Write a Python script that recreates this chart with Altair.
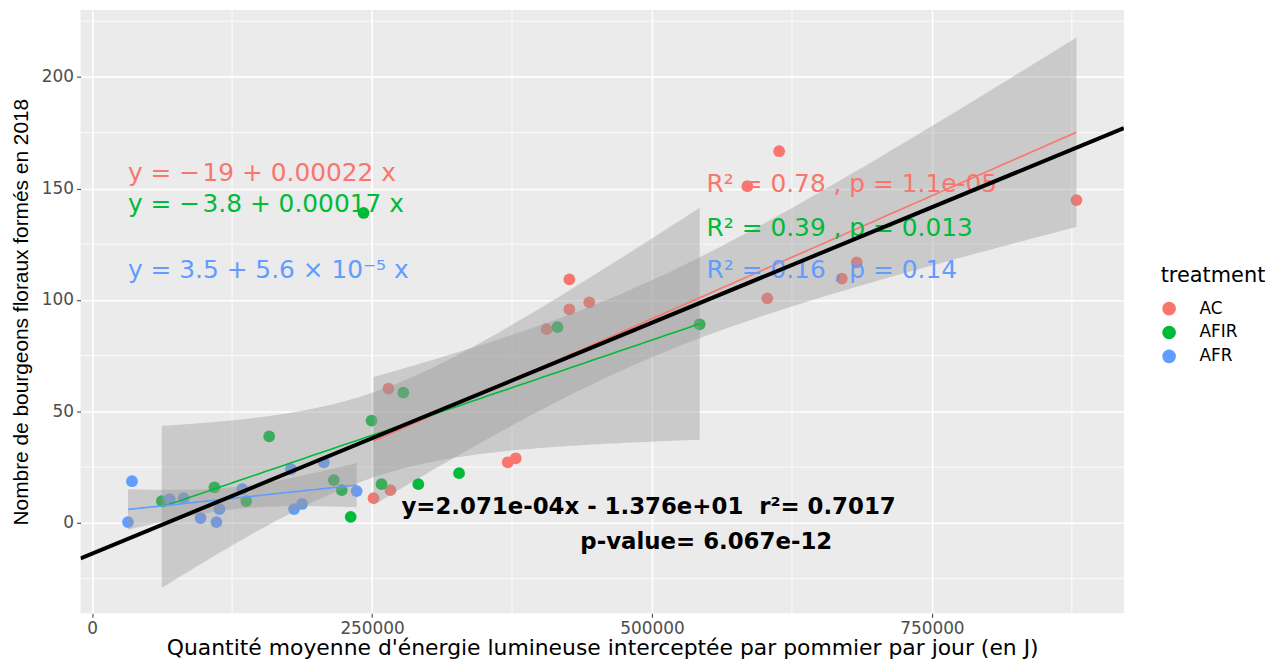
import altair as alt
import numpy as np
import pandas as pd

# ---------------- data ----------------
ac_x = [251300, 266400, 264600, 371200, 378300, 405800, 426200, 426200, 444000,
        585200, 613600, 603000, 669600, 682900, 879100]
ac_y = [11.1, 14.7, 60.2, 27.2, 29.0, 86.9, 95.8, 109.2, 98.9,
        151.0, 166.7, 100.7, 109.6, 116.8, 144.8]

afir_x = [62160, 109200, 137600, 158100, 215800, 222900, 230900, 242400, 249500,
          258400, 277900, 291300, 327700, 415600, 542600]
afir_y = [9.8, 16.0, 9.8, 38.8, 19.2, 14.7, 2.7, 139.0, 45.9,
          17.4, 58.4, 17.4, 22.3, 87.8, 89.1]

afr_x = [35520, 31970, 69260, 81700, 96800, 111000, 113700, 134100, 177600,
         180300, 187400, 206900, 236200]
afr_y = [18.7, 0.4, 10.7, 11.1, 2.2, 0.4, 6.2, 15.2, 24.1,
         6.2, 8.5, 27.2, 14.3]

treatments = ["AC", "AFIR", "AFR"]
colors = ["#F8766D", "#00BA38", "#619CFF"]

# global fit (abline) as printed on the chart
global_slope = 2.071e-04
global_intercept = -13.76

x_domain = [-10400, 921500]
y_domain = [-40.5, 230]
x_major = [0, 250000, 500000, 750000]
x_minor = [125000, 375000, 625000, 875000]
y_major = [0, 50, 100, 150, 200]
y_minor = [-25, 25, 75, 125, 175, 225]

eq_labels = ["y = \u2212\u200a19 + 0.00022 x", "y = \u2212\u200a3.8 + 0.00017 x", "y = 3.5 + 5.6 \u00d7 10\u207b\u2075 x"]
eq_x = [31970, 31970, 31970]
eq_y = [156.9, 143.0, 113.2]

r2_labels = ["R\u00b2 = 0.78 , p = 1.1e-05", "R\u00b2 = 0.39 , p = 0.013", "R\u00b2 = 0.16 , p = 0.14"]
r2_x = [548800, 548800, 548800]
r2_y = [152.0, 132.4, 113.2]

global_labels = ["y=2.071e-04x - 1.376e+01\u00a0\u00a0r\u00b2= 0.7017", "p-value= 6.067e-12"]
global_x = [276200, 436000]
global_y = [7.1, -8.5]

# t quantiles (0.975) for residual degrees of freedom
t975 = {11: 2.201, 13: 2.160}

# ---------------- derived tables ----------------
groups = {"AC": (ac_x, ac_y), "AFIR": (afir_x, afir_y), "AFR": (afr_x, afr_y)}
pts = pd.concat([pd.DataFrame({"x": gx, "y": gy, "treatment": t}) for t, (gx, gy) in groups.items()])

fit_rows = []
for t, (gx, gy) in groups.items():
    gx = np.array(gx, float)
    gy = np.array(gy, float)
    n = len(gx)
    b, a = np.polyfit(gx, gy, 1)
    resid = gy - (a + b * gx)
    s = np.sqrt(np.sum(resid ** 2) / (n - 2))
    xbar = gx.mean()
    sxx = np.sum((gx - xbar) ** 2)
    grid = np.linspace(gx.min(), gx.max(), 80)
    yhat = a + b * grid
    se = s * np.sqrt(1.0 / n + (grid - xbar) ** 2 / sxx)
    tq = t975[n - 2]
    fit_rows.append(pd.DataFrame({"x": grid, "yhat": yhat, "lo": yhat - tq * se,
                                  "hi": yhat + tq * se, "treatment": t}))
fits = pd.concat(fit_rows)

abline = pd.DataFrame({"x": x_domain,
                       "y": [global_intercept + global_slope * v for v in x_domain]})

eq_df = pd.DataFrame({"x": eq_x, "y": eq_y, "label": eq_labels, "color": colors})
r2_df = pd.DataFrame({"x": r2_x, "y": r2_y, "label": r2_labels, "color": colors})
gl_df = pd.DataFrame({"x": global_x, "y": global_y, "label": global_labels})

xs = alt.Scale(domain=x_domain, nice=False, zero=False)
ys = alt.Scale(domain=y_domain, nice=False, zero=False)
cs = alt.Scale(domain=treatments, range=colors)

FONT = "DejaVu Sans"
FONT2 = "Liberation Sans"

xaxis = alt.Axis(values=x_major, title="Quantité moyenne d'énergie lumineuse interceptée par pommier par jour (en J)",
                 format="d", gridColor="white", gridWidth=1.6, titleFont=FONT, titleFontSize=22)
yaxis = alt.Axis(values=y_major, title="Nombre de bourgeons floraux formés en 2018",
                 format="d", gridColor="white", gridWidth=1.6, titleFont=FONT2, titleFontSize=21)

minor_x = alt.Chart(pd.DataFrame({"x": x_minor})).mark_rule(color="white", strokeWidth=0.8).encode(
    x=alt.X("x:Q", scale=xs, axis=xaxis))
minor_y = alt.Chart(pd.DataFrame({"y": y_minor})).mark_rule(color="white", strokeWidth=0.8).encode(
    y=alt.Y("y:Q", scale=ys, axis=yaxis))

points = alt.Chart(pts).mark_circle(size=140, opacity=1).encode(
    x=alt.X("x:Q", scale=xs, axis=xaxis),
    y=alt.Y("y:Q", scale=ys, axis=yaxis),
    color=alt.Color("treatment:N", scale=cs,
                    legend=alt.Legend(title="treatment", orient="none", legendX=1087, legendY=257)),
)

bands = alt.Chart(fits).mark_area(color="#999999", opacity=0.4).encode(
    x="x:Q", y="lo:Q", y2="hi:Q", detail="treatment:N")

lines = alt.Chart(fits).mark_line(strokeWidth=1.6).encode(
    x="x:Q", y="yhat:Q", color=alt.Color("treatment:N", scale=cs))

black = alt.Chart(abline).mark_line(color="black", strokeWidth=4, clip=True).encode(
    x="x:Q", y="y:Q")

eq_text = alt.Chart(eq_df).mark_text(align="left", baseline="middle", fontSize=25, font=FONT).encode(
    x="x:Q", y="y:Q", text="label:N", color=alt.Color("color:N", scale=None))
r2_text = alt.Chart(r2_df).mark_text(align="left", baseline="middle", fontSize=25, font=FONT).encode(
    x="x:Q", y="y:Q", text="label:N", color=alt.Color("color:N", scale=None))
gl_text = alt.Chart(gl_df).mark_text(align="left", baseline="middle", fontSize=23, font=FONT,
                                      fontWeight="bold", color="black").encode(
    x="x:Q", y="y:Q", text="label:N")

chart = alt.layer(minor_x, minor_y, points, bands, lines, eq_text, r2_text, black, gl_text).properties(
    width=1050, height=607,
    autosize=alt.AutoSizeParams(type="none"),
    padding={"left": 73, "top": 0, "right": 142, "bottom": 50},
    background="white",
).configure_view(fill="#EBEBEB", stroke=None).configure_axis(
    domain=False, tickColor="#333333", tickSize=4, tickWidth=1,
    labelColor="#4D4D4D", labelFont=FONT, labelFontSize=17, labelPadding=3,
    titleFontWeight="normal", titleColor="black",
).configure_axisX(titlePadding=2).configure_axisY(titlePadding=10).configure_legend(
    titleFont=FONT, titleFontSize=21, titleFontWeight="normal", titleColor="black", titlePadding=14,
    labelFont=FONT, labelFontSize=17, labelColor="black",
    symbolType="circle", symbolSize=150, rowPadding=5, labelOffset=22,
)

chart.save("out.html", embed_options={"renderer": "svg", "actions": False})
